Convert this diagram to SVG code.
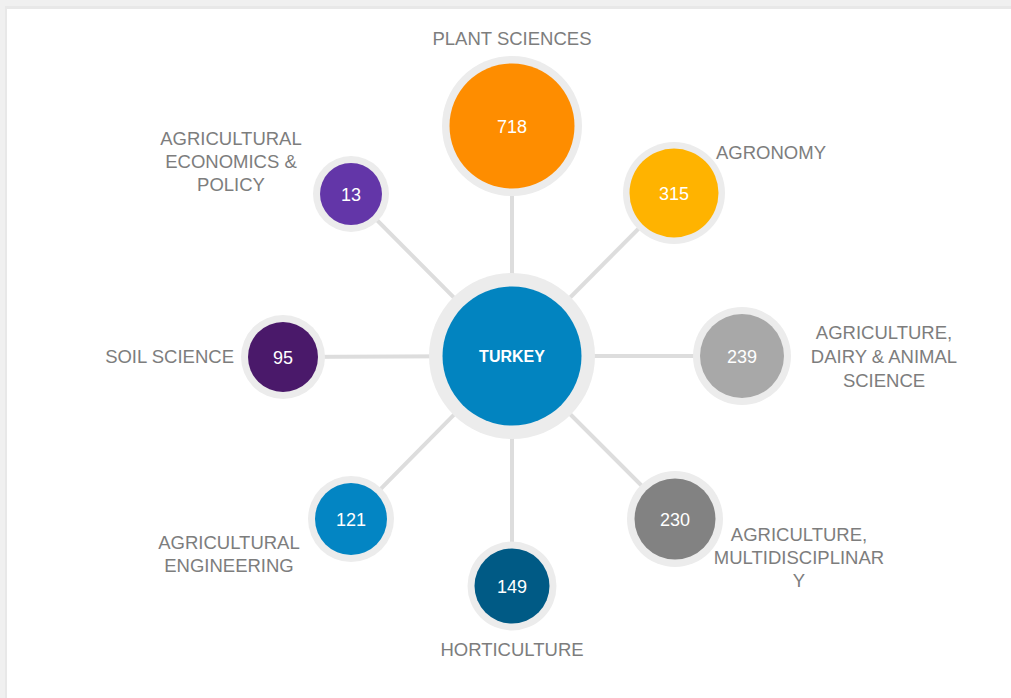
<svg xmlns="http://www.w3.org/2000/svg" width="1011" height="698" viewBox="0 0 1011 698">
<style>
.halo{fill:#ececec}
.lbl{font-family:"Liberation Sans",Arial,sans-serif;font-size:18.5px;fill:#7d7d7d}
.num{font-family:"Liberation Sans",Arial,sans-serif;font-size:18px;fill:#ffffff;text-anchor:middle}
.conn line{stroke:#dddddd;stroke-width:4}
</style>
<rect x="0" y="0" width="1011" height="698" fill="#f0f0f0"/>
<rect x="5" y="6" width="1006" height="692" fill="#e8e8e8"/>
<rect x="7" y="9" width="1004" height="689" fill="#ffffff"/>
<g id="connectors" class="conn">
<line x1="512" y1="356" x2="512" y2="127"/>
<line x1="512" y1="356" x2="674" y2="193"/>
<line x1="512" y1="356" x2="351" y2="194"/>
<line x1="512" y1="356" x2="283" y2="357"/>
<line x1="512" y1="356" x2="742" y2="356"/>
<line x1="512" y1="356" x2="675" y2="519"/>
<line x1="512" y1="356" x2="512" y2="586"/>
<line x1="512" y1="356" x2="351" y2="519"/>
</g>
<g id="turkey">
<circle class="halo" cx="512" cy="356" r="83"/>
<circle cx="512" cy="356" r="69.5" fill="#0284c0"/>
<text x="512" y="362" font-family="Liberation Sans,Arial,sans-serif" font-size="16" font-weight="bold" fill="#ffffff" text-anchor="middle">TURKEY</text>
</g>
<g id="plant-sciences">
<circle class="halo" cx="512" cy="126" r="70"/>
<circle cx="512" cy="126" r="62.5" fill="#fe8d00"/>
<text class="num" x="512" y="133">718</text>
<text class="lbl" x="512" y="45" text-anchor="middle">PLANT SCIENCES</text>
</g>
<g id="agronomy">
<circle class="halo" cx="674" cy="193" r="51"/>
<circle cx="674" cy="193" r="44.5" fill="#ffb300"/>
<text class="num" x="674" y="200">315</text>
<text class="lbl" x="716" y="159">AGRONOMY</text>
</g>
<g id="agri-econ">
<circle class="halo" cx="351" cy="194" r="38"/>
<circle cx="351" cy="194" r="31" fill="#6336a8"/>
<text class="num" x="351" y="201">13</text>
<text class="lbl" text-anchor="middle"><tspan x="231" y="145">AGRICULTURAL</tspan><tspan x="231" y="168">ECONOMICS &amp;</tspan><tspan x="231" y="191">POLICY</tspan></text>
</g>
<g id="soil-science">
<circle class="halo" cx="283" cy="357" r="42"/>
<circle cx="283" cy="357" r="35" fill="#4a196a"/>
<text class="num" x="283" y="364">95</text>
<text class="lbl" x="234" y="363" text-anchor="end">SOIL SCIENCE</text>
</g>
<g id="dairy-animal">
<circle class="halo" cx="742" cy="356" r="49"/>
<circle cx="742" cy="356" r="42" fill="#a8a8a8"/>
<text class="num" x="742" y="363">239</text>
<text class="lbl" text-anchor="middle"><tspan x="884" y="339">AGRICULTURE,</tspan><tspan x="884" y="363">DAIRY &amp; ANIMAL</tspan><tspan x="884" y="387">SCIENCE</tspan></text>
</g>
<g id="multidisciplinary">
<circle class="halo" cx="675" cy="519" r="48"/>
<circle cx="675" cy="519" r="40.5" fill="#828282"/>
<text class="num" x="675" y="526">230</text>
<text class="lbl" text-anchor="middle"><tspan x="799" y="541">AGRICULTURE,</tspan><tspan x="799" y="564">MULTIDISCIPLINAR</tspan><tspan x="799" y="587">Y</tspan></text>
</g>
<g id="horticulture">
<circle class="halo" cx="512" cy="586" r="44.5"/>
<circle cx="512" cy="586" r="37.5" fill="#005a85"/>
<text class="num" x="512" y="593">149</text>
<text class="lbl" x="512" y="656" text-anchor="middle">HORTICULTURE</text>
</g>
<g id="agri-engineering">
<circle class="halo" cx="351" cy="519" r="43"/>
<circle cx="351" cy="519" r="36" fill="#0385c3"/>
<text class="num" x="351" y="526">121</text>
<text class="lbl" text-anchor="middle"><tspan x="229" y="549">AGRICULTURAL</tspan><tspan x="229" y="572">ENGINEERING</tspan></text>
</g>
</svg>
